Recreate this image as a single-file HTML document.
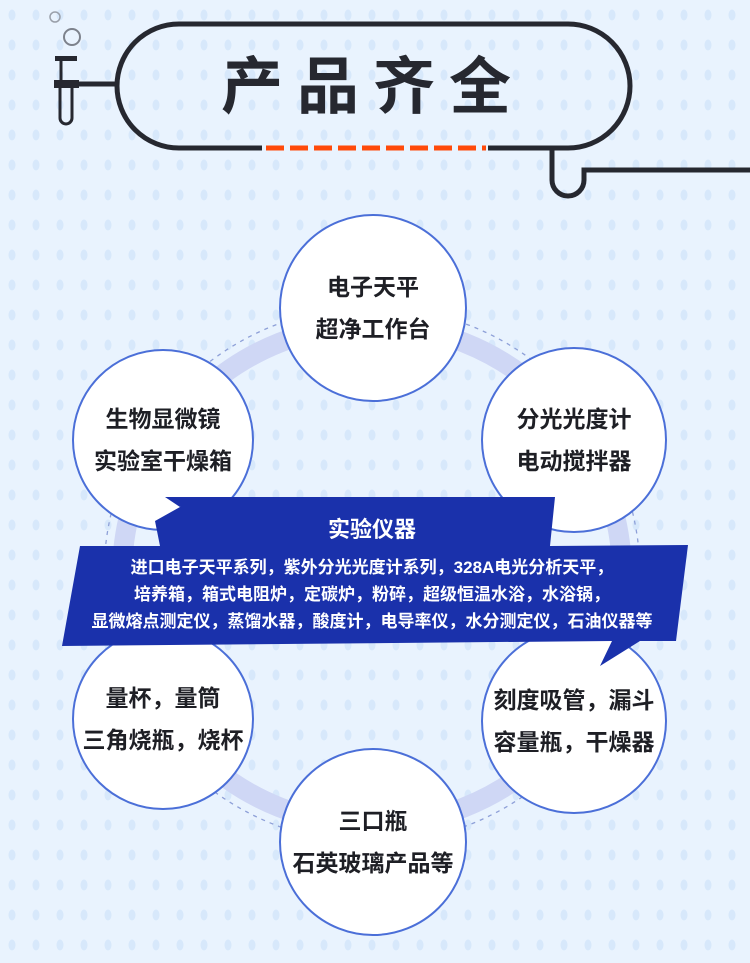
<!DOCTYPE html>
<html><head><meta charset="utf-8"><style>
body{margin:0;width:750px;height:963px;overflow:hidden;background:#e9f3fe;font-family:"Liberation Sans","Noto Sans CJK SC",sans-serif;}
.c{position:absolute;border:2px solid #4b6fd8;border-radius:50%;background:#fff;box-sizing:border-box;display:flex;align-items:center;justify-content:center;text-align:center;font-weight:bold;font-size:23px;line-height:42px;color:#1e1f25;}
</style></head><body>
<svg width="750" height="963" style="position:absolute;left:0;top:0">
<defs><pattern id="d" width="24" height="30" patternUnits="userSpaceOnUse"><ellipse cx="12" cy="15" rx="3.5" ry="5.5" fill="#d7e8fb"/></pattern></defs>
<rect width="750" height="963" fill="url(#d)"/>
<circle cx="372" cy="575" r="268" fill="none" stroke="#8ea0d8" stroke-width="1.3" stroke-dasharray="4 5"/>
<circle cx="372" cy="575" r="250" fill="none" stroke="#cfd7f5" stroke-width="20"/>
<rect x="117" y="24" width="513" height="124" rx="62" fill="none" stroke="#262830" stroke-width="5"/>
<line x1="262" y1="148" x2="488" y2="148" stroke="#e9f3fe" stroke-width="8"/>
<line x1="266" y1="148" x2="486" y2="148" stroke="#ff4a0a" stroke-width="5" stroke-dasharray="18 6"/>
<path d="M552 150 V180 a16 16 0 0 0 32 0 V170 H750" fill="none" stroke="#262830" stroke-width="5"/>
<circle cx="55" cy="17" r="5" fill="none" stroke="#9aa0aa" stroke-width="1.5"/>
<circle cx="72" cy="37" r="8" fill="none" stroke="#7d828c" stroke-width="2"/>
<path d="M60 84 V118 a6 6 0 0 0 12 0 V84" fill="none" stroke="#262830" stroke-width="3"/>
<rect x="54" y="80" width="25" height="8" fill="#262830"/>
<rect x="55" y="56" width="22" height="5" fill="#262830"/>
<line x1="61" y1="58" x2="61" y2="82" stroke="#262830" stroke-width="3"/>
<line x1="78" y1="84" x2="116" y2="84" stroke="#262830" stroke-width="5"/>
<text x="373" y="108" text-anchor="middle" font-family="Liberation Sans,Noto Sans CJK SC,sans-serif" font-weight="bold" font-size="62" fill="#262830" letter-spacing="14">产品齐全</text>
</svg>
<div class="c" style="left:279px;top:214px;width:188px;height:188px">电子天平<br>超净工作台</div>
<div class="c" style="left:481px;top:347px;width:186px;height:186px">分光光度计<br>电动搅拌器</div>
<div class="c" style="left:72px;top:349px;width:182px;height:182px">生物显微镜<br>实验室干燥箱</div>
<div class="c" style="left:72px;top:628px;width:182px;height:182px">量杯，量筒<br>三角烧瓶，烧杯</div>
<div class="c" style="left:481px;top:628px;width:186px;height:186px">刻度吸管，漏斗<br>容量瓶，干燥器</div>
<div class="c" style="left:279px;top:748px;width:188px;height:188px">三口瓶<br>石英玻璃产品等</div>
<svg width="750" height="963" style="position:absolute;left:0;top:0">
<path d="M205 484 L180 507 L165 497 L555 497 L550 546 L688 545 L676 641 L640 641 L600 666 L612 641 L62 646 L80 546 L160 546 L155 521 L180 507 Z" fill="#1a31ab"/>
<text x="372" y="537" text-anchor="middle" font-family="Liberation Sans,Noto Sans CJK SC,sans-serif" font-weight="bold" font-size="22" fill="#fff">实验仪器</text>
<g font-family="Liberation Sans,Noto Sans CJK SC,sans-serif" font-weight="bold" font-size="17" fill="#fff" text-anchor="middle">
<text x="372" y="573">进口电子天平系列，紫外分光光度计系列，328A电光分析天平，</text>
<text x="372" y="600">培养箱，箱式电阻炉，定碳炉，粉碎，超级恒温水浴，水浴锅，</text>
<text x="372" y="627">显微熔点测定仪，蒸馏水器，酸度计，电导率仪，水分测定仪，石油仪器等</text>
</g>
</svg>
</body></html>
